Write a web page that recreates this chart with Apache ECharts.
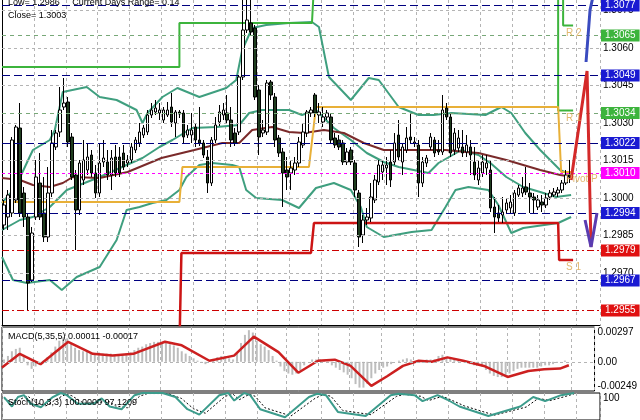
<!DOCTYPE html>
<html><head><meta charset="utf-8">
<script src="https://cdn.jsdelivr.net/npm/echarts@6/dist/echarts.min.js"></script>
<style>html,body{margin:0;padding:0;background:#fff}#c{width:640px;height:420px}</style>
</head><body><div id="c"></div>
<script>
// ---------- DATA ----------
const slotCount = 150;
const categories = Array.from({length: slotCount}, (_, i) => String(i));
// [open, close, low, high]
const candles = [
[1.29892,1.29972,1.29872,1.29992],[1.29924,1.30012,1.29872,1.30032],[1.29940,1.30232,1.29924,1.30244],[1.29992,1.30284,1.29980,1.30292],
[1.30280,1.29940,1.29924,1.30380],[1.30020,1.29924,1.29884,1.30044],[1.29924,1.29660,1.29552,1.29940],[1.29672,1.29860,1.29664,1.29884],
[1.29924,1.30084,1.29912,1.30152],[1.30060,1.29924,1.29912,1.30180],[1.29940,1.29844,1.29824,1.30084],[1.29844,1.30020,1.29824,1.30124],
[1.30020,1.30220,1.30004,1.30272],[1.30204,1.30260,1.30192,1.30272],[1.30264,1.30352,1.30244,1.30444],[1.30364,1.30380,1.30352,1.30480],
[1.30384,1.30224,1.30204,1.30404],[1.30244,1.30084,1.30072,1.30260],[1.30092,1.29952,1.29792,1.30112],[1.29952,1.30140,1.29932,1.30152],
[1.30072,1.30152,1.30052,1.30232],[1.30112,1.30164,1.30092,1.30220],[1.30172,1.30100,1.30084,1.30192],[1.30100,1.30020,1.30000,1.30132],
[1.30020,1.30140,1.30004,1.30220],[1.30144,1.30160,1.30124,1.30232],[1.30144,1.30092,1.30072,1.30192],[1.30092,1.30160,1.30032,1.30192],
[1.30164,1.30100,1.30084,1.30212],[1.30164,1.30100,1.30084,1.30204],[1.30180,1.30124,1.30112,1.30212],[1.30140,1.30152,1.30124,1.30172],
[1.30152,1.30204,1.30140,1.30220],[1.30192,1.30232,1.30180,1.30244],[1.30220,1.30264,1.30204,1.30300],[1.30252,1.30280,1.30240,1.30292],
[1.30264,1.30332,1.30252,1.30352],[1.30332,1.30352,1.30320,1.30380],[1.30344,1.30360,1.30332,1.30392],[1.30340,1.30352,1.30312,1.30380],
[1.30312,1.30352,1.30300,1.30364],[1.30332,1.30352,1.30324,1.30384],[1.30364,1.30304,1.30284,1.30420],[1.30300,1.30344,1.30244,1.30352],
[1.30344,1.30336,1.30320,1.30352],[1.30340,1.30244,1.30220,1.30352],[1.30252,1.30272,1.30240,1.30292],[1.30252,1.30272,1.30220,1.30340],
[1.30284,1.30232,1.30204,1.30300],[1.30232,1.30220,1.30208,1.30364],[1.30220,1.30172,1.30160,1.30232],[1.30164,1.30060,1.30020,1.30192],
[1.30060,1.30232,1.30048,1.30244],[1.30232,1.30292,1.30220,1.30324],[1.30304,1.30344,1.30288,1.30372],[1.30332,1.30352,1.30312,1.30380],
[1.30340,1.30312,1.30300,1.30412],[1.30312,1.30232,1.30204,1.30364],[1.30260,1.30220,1.30208,1.30280],[1.30264,1.30484,1.30252,1.30492],
[1.30484,1.30672,1.30472,1.30850],[1.30672,1.30712,1.30660,1.30860],[1.30700,1.30664,1.30652,1.30840],[1.30680,1.30404,1.30392,1.30692],
[1.30432,1.30244,1.30172,1.30452],[1.30260,1.30272,1.30244,1.30312],[1.30264,1.30460,1.30252,1.30472],[1.30464,1.30412,1.30392,1.30472],
[1.30404,1.30232,1.30204,1.30420],[1.30240,1.30180,1.30164,1.30252],[1.30184,1.30100,1.29964,1.30200],[1.30112,1.30084,1.30032,1.30164],
[1.30100,1.30120,1.30032,1.30152],[1.30112,1.30140,1.30092,1.30164],[1.30140,1.30224,1.30124,1.30244],[1.30212,1.30264,1.30200,1.30300],
[1.30260,1.30344,1.30244,1.30352],[1.30340,1.30352,1.30324,1.30364],[1.30412,1.30340,1.30324,1.30420],[1.30332,1.30344,1.30300,1.30380],
[1.30304,1.30324,1.30284,1.30364],[1.30324,1.30340,1.30312,1.30352],[1.30324,1.30232,1.30220,1.30340],[1.30240,1.30212,1.30200,1.30260],
[1.30232,1.30204,1.30192,1.30252],[1.30220,1.30144,1.30132,1.30232],[1.30144,1.30184,1.30132,1.30200],[1.30192,1.30144,1.30132,1.30204],
[1.30140,1.30032,1.30004,1.30152],[1.30020,1.29844,1.29804,1.30032],[1.29852,1.29912,1.29820,1.29932],[1.29912,1.29924,1.29892,1.29960],
[1.29920,1.30004,1.29904,1.30060],[1.29992,1.30072,1.29980,1.30092],[1.30064,1.30132,1.30052,1.30152],[1.30104,1.30132,1.30072,1.30152],
[1.30120,1.30132,1.30052,1.30164],[1.30144,1.30072,1.30044,1.30192],[1.30144,1.30220,1.30132,1.30260],[1.30252,1.30164,1.30152,1.30312],
[1.30144,1.30204,1.30092,1.30220],[1.30192,1.30240,1.30180,1.30284],[1.30244,1.30232,1.30220,1.30340],[1.30220,1.30224,1.30204,1.30244],
[1.30212,1.30060,1.30004,1.30232],[1.30060,1.30144,1.30044,1.30164],[1.30140,1.30160,1.30124,1.30172],[1.30204,1.30244,1.30192,1.30260],
[1.30232,1.30180,1.30164,1.30244],[1.30192,1.30184,1.30172,1.30232],[1.30184,1.30352,1.30172,1.30412],[1.30360,1.30324,1.30312,1.30380],
[1.30324,1.30180,1.30164,1.30340],[1.30192,1.30260,1.30172,1.30280],[1.30200,1.30240,1.30184,1.30272],[1.30204,1.30180,1.30164,1.30272],
[1.30184,1.30212,1.30164,1.30252],[1.30204,1.30172,1.30092,1.30232],[1.30144,1.30092,1.30072,1.30204],[1.30072,1.30120,1.30052,1.30152],
[1.30100,1.30144,1.30084,1.30172],[1.30120,1.30140,1.30092,1.30172],[1.30112,1.29960,1.29944,1.30152],[1.29964,1.29924,1.29860,1.30004],
[1.29940,1.29920,1.29904,1.29972],[1.29932,1.29944,1.29900,1.30004],[1.29952,1.29980,1.29940,1.30000],[1.29960,1.29984,1.29936,1.30012],
[1.29940,1.30020,1.29928,1.30032],[1.30012,1.30040,1.30004,1.30052],[1.30020,1.30040,1.30004,1.30084],[1.30044,1.30024,1.30012,1.30124],
[1.30020,1.30004,1.29940,1.30060],[1.30004,1.29992,1.29940,1.30020],[1.29964,1.29992,1.29952,1.30012],[1.29984,1.29972,1.29944,1.30012],
[1.29972,1.30000,1.29960,1.30020],[1.30004,1.30020,1.29992,1.30032],[1.30012,1.30024,1.30004,1.30040],[1.30020,1.30032,1.30004,1.30044],
[1.30032,1.30060,1.30020,1.30072],[1.30060,1.30092,1.30052,1.30112],[1.30092,1.30084,1.30060,1.30152]
];
// [slot position, price]
const upperBand = [[0,1.29980],[3.25,1.30040],[7.75,1.30192],[12,1.30232],[13.25,1.30272],[15.25,1.30424],[21.25,1.30444],[24.5,1.30404],[28.75,1.30392],[33.75,1.30352],[35.25,1.30300],[36.5,1.30340],[40.25,1.30404],[44,1.30440],[49.5,1.30404],[56.25,1.30440],[58.75,1.30472],[60.25,1.30592],[62.75,1.30680],[66.25,1.30692],[72,1.30700],[77.75,1.30704],[79.5,1.30684],[82,1.30484],[87.5,1.30392],[92,1.30480],[94.5,1.30472],[99.5,1.30364],[104.5,1.30332],[108.25,1.30332],[112.75,1.30340],[121.25,1.30332],[125.25,1.30364],[127.75,1.30340],[131.25,1.30260],[135,1.30192],[140,1.30112],[142.75,1.30092]];
const middleBand = [[0,1.29872],[4.5,1.29912],[7.75,1.29924],[12,1.29964],[16.25,1.30032],[24.5,1.30084],[31.25,1.30132],[35.25,1.30160],[39.5,1.30204],[42.75,1.30232],[47.75,1.30280],[53.75,1.30284],[59.5,1.30292],[62,1.30340],[65.25,1.30352],[72,1.30352],[75.25,1.30332],[78.75,1.30352],[83.25,1.30280],[87.5,1.30232],[91.5,1.30180],[95.75,1.30144],[99.5,1.30124],[107,1.30100],[109.5,1.30140],[115.25,1.30192],[119.5,1.30172],[122.5,1.30140],[126.5,1.30084],[130.75,1.30044],[135,1.30024],[139,1.30004],[142.75,1.30012]];
const lowerBand = [[0,1.29764],[2.75,1.29672],[6.25,1.29660],[12,1.29672],[15,1.29632],[18.75,1.29684],[24.5,1.29724],[28.75,1.29832],[31.25,1.29952],[34.5,1.29964],[37.75,1.29980],[41.25,1.29992],[44.5,1.30032],[46.25,1.30084],[49.5,1.30132],[52.75,1.30140],[57.75,1.30132],[59.5,1.30124],[61.25,1.30032],[63.75,1.30000],[70.25,1.29992],[74.5,1.29960],[78.75,1.30040],[83.25,1.30060],[87.5,1.30032],[90,1.29964],[91.5,1.29884],[95.75,1.29844],[102.75,1.29864],[107.75,1.29872],[111.25,1.29964],[113.75,1.30032],[117,1.30044],[122,1.30032],[124.5,1.29972],[127.75,1.29860],[130.75,1.29880],[139.5,1.29900],[142.75,1.29924]];
const slowMA = [[0,1.30080],[4.5,1.30072],[7.75,1.30052],[12,1.30044],[15.25,1.30060],[17.75,1.30084],[24.5,1.30080],[31.5,1.30104],[40,1.30160],[48.25,1.30192],[55.25,1.30220],[59.5,1.30220],[62.75,1.30272],[67.75,1.30284],[72,1.30264],[75.75,1.30260],[80.75,1.30272],[85.75,1.30260],[90.75,1.30220],[95.75,1.30192],[102.75,1.30192],[111.25,1.30192],[116.25,1.30184],[119.5,1.30180],[126.5,1.30152],[135,1.30112],[140,1.30092],[143.25,1.30084]];
const pivotR1 = [[0,1.30524],[44.5,1.30524],[44.5,1.30700],[77.75,1.30700],[78.25,1.30850],[139.5,1.30850],[139.5,1.30350],[143.25,1.30350]];
const pivotR2 = [[140.75,1.30850],[140.75,1.30690],[143.25,1.30690]];
const pivotPP = [[0,1.29984],[44.5,1.29984],[45.25,1.30124],[77,1.30124],[78.75,1.30364],[139.5,1.30364],[140.25,1.30104],[143.25,1.30104]];
const pivotS1 = [[44.5,1.29400],[45,1.29780],[77.5,1.29780],[78.25,1.29900],[139.5,1.29900],[139.75,1.29752],[143.25,1.29752]];
const pivotLabels = ['R 2', 'R 1', 'Pivot P', 'S 1'];
const pivotLabelPos = [[141.5,1.30690],[141.5,1.30350],[141.5,1.30104],[141.5,1.29752]];
const projRed = [[142.75,1.30072],[146.75,1.30508],[147.75,1.29804]];
const projBlueTop = [[146.5,1.30544],[147.5,1.30752],[148.5,1.30824]];
const projVee = [[146.25,1.29912],[147.75,1.29804],[149.25,1.29940]];
const gridPrices = [1.3075,1.3060,1.3045,1.3030,1.3015,1.3000,1.2985,1.2970];
const levelPrices = [1.3077,1.3065,1.3049,1.3034,1.3022,1.3010,1.2994,1.2979,1.2967,1.2955];
const levelKinds = ['navy','green','navy','green','navy','magenta','navy','red','navy','red'];
const macdHist = [0.0002,0.0005,0.0009,0.0011,0.0012,0.0006,-0.0003,-0.0006,-0.0004,-0.0002,
 0.0001,0.0004,0.0008,0.0013,0.0018,0.0021,0.0020,0.0016,0.0012,0.0010,
 0.0009,0.0009,0.0008,0.0007,0.0008,0.0007,0.0007,0.0007,0.0006,0.0006,
 0.0006,0.0007,0.0008,0.0010,0.0012,0.0013,0.0015,0.0016,0.0017,0.0017,
 0.0016,0.0016,0.0015,0.0014,0.0012,0.0009,0.0007,0.0005,0.0003,0.0001,
 -0.0001,-0.0002,0.0000,0.0002,0.0004,0.0005,0.0005,0.0003,0.0002,0.0008,
 0.0016,0.0023,0.0027,0.0025,0.0018,0.0015,0.0013,0.0010,0.0005,0.0001,
 -0.0004,-0.0008,-0.0010,-0.0011,-0.0010,-0.0007,-0.0003,0.0000,0.0002,0.0002,
 0.0002,0.0001,-0.0001,-0.0003,-0.0005,-0.0007,-0.0009,-0.0011,-0.0014,-0.0019,
 -0.0022,-0.0022,-0.0019,-0.0014,-0.0010,-0.0007,-0.0005,-0.0004,-0.0002,0.0000,
 0.0001,0.0002,0.0003,0.0002,0.0000,-0.0001,0.0000,0.0002,0.0002,0.0002,
 0.0005,0.0006,0.0004,0.0003,0.0002,0.0001,0.0001,0.0000,-0.0002,-0.0003,
 -0.0003,-0.0004,-0.0007,-0.0010,-0.0012,-0.0013,-0.0013,-0.0012,-0.0010,-0.0008,
 -0.0006,-0.0005,-0.0005,-0.0005,-0.0005,-0.0005,-0.0004,-0.0003,-0.0003,-0.0002,
 -0.0001,0.0000,0.0001];
const macdSignal = [[0,-0.00049],[4.5,0.00068],[9.75,-0.0002],[16.75,0.00171],[23,0.00068],[28,0.00053],[33.25,0.00068],[41.25,0.00171],[45.5,0.00141],[52.5,0.00009],[58.75,0.00053],[63.75,0.00215],[70,0.00083],[75,-0.00093],[80,0.00009],[84.25,0.00018],[88.25,-0.00035],[93.5,-0.00205],[97.5,-0.00123],[101.5,-0.00035],[105.5,0.00009],[108.75,0.0],[112.75,0.00038],[116.75,0.00009],[122,-0.00035],[128,-0.00129],[133.25,-0.00079],[137.25,-0.00064],[141.25,-0.00058],[143.5,-0.00029]];
const macdTicks = [-0.00249, 0, 0.00297];
const stochMain = [[0.5,85],[2.5,50],[4,85],[5.5,92],[7.25,60],[9.75,47],[12.75,85],[14.75,100],[16.25,92],[19,60],[23,60],[25,80],[27,50],[30,40],[33.25,92],[35.25,100],[40.25,100],[43.5,85],[46.5,40],[49.5,20],[54.5,92],[56.75,100],[58.25,72],[60.75,100],[62.25,92],[64.75,40],[71,10],[77,85],[79,97],[81.25,92],[84.25,30],[91.25,15],[97.5,92],[99.5,97],[103.5,92],[105.5,70],[109.25,92],[111.75,75],[114.75,50],[122,15],[130,50],[133.25,85],[136.25,70],[140.25,92],[143.5,100]];
const stochSignal = [[0.5,80],[3,60],[5,80],[6.5,88],[8.5,65],[11,52],[14,80],[16,95],[17.5,90],[20.5,62],[24.5,65],[26.5,72],[28.5,52],[31.5,45],[34.5,88],[36.5,98],[41.5,98],[45,80],[48,42],[51,25],[56,88],[58,95],[59.5,75],[62,95],[63.5,88],[66,45],[72.5,15],[78.5,80],[80.5,94],[82.5,88],[85.5,35],[92.5,20],[99,88],[101,95],[105,88],[107,72],[110.5,88],[113,72],[116,52],[123.5,18],[131.5,48],[134.5,80],[137.5,72],[141.5,88],[143.5,97]];
const stochTicks = [80, 100];
const headerLine1 = 'Low= 1.2986     Current Days Range= 0.14';
const headerLine2 = 'Close= 1.3003';
const macdTitle = 'MACD(5,35,5) 0.00011 -0.00017';
const stochTitle = 'Stoch(10,3,3) 100.0000 97.1209';

// ---------- STYLE ----------
const FONT = "'Liberation Sans', Arial, sans-serif";
const priceMin = 1.29492, priceMax = 1.30792;
const gridDash = {color: '#b4b4b4', type: [3, 3], width: 1};
const levelStyle = {
  navy:   {line: '#000080', type: [8, 4], box: '#1a1ad2'},
  green:  {line: '#78a878', type: [4, 4], box: '#3cb43c'},
  magenta:{line: '#ff00ff', type: [3, 3], box: '#ff00ff'},
  red:    {line: '#cc0000', type: [7, 3, 2, 3], box: '#e01010'}
};
const chart = echarts.init(document.getElementById('c'), null, {renderer: 'canvas'});

const gridMarks = gridPrices.map(p => ({
  yAxis: p, lineStyle: {color: '#b4b4b4', type: [3, 3], width: 1},
  label: {show: true, position: 'end', distance: 3, formatter: p.toFixed(4), color: '#000',
          fontSize: 10, fontFamily: FONT}
}));
const levelMarks = levelPrices.map((p, i) => {
  const s = levelStyle[levelKinds[i]];
  return {
    yAxis: p, lineStyle: {color: s.line, type: s.type, width: 1},
    label: {show: true, position: 'end', distance: 1, formatter: p.toFixed(4), color: '#fff',
            backgroundColor: s.box, padding: [1, 4, 0, 4], lineHeight: 11, fontSize: 10, fontFamily: FONT}
  };
});

function lineSeries(data, color, width, z, xi, yi, extra) {
  return Object.assign({type: 'line', data, xAxisIndex: xi, yAxisIndex: yi, symbol: 'none',
    lineStyle: {color, width}, z, silent: true, clip: true}, extra || {});
}
const titleStyle = {fontSize: 9, fontWeight: 'normal', color: '#000', fontFamily: FONT};

chart.setOption({
  animation: false,
  backgroundColor: '#fff',
  title: [
    {text: headerLine1, left: 8, top: -2, padding: 0, textStyle: titleStyle},
    {text: headerLine2, left: 8, top: 11, padding: 0, textStyle: titleStyle},
    {text: macdTitle, left: 8, top: 332, padding: 0, textStyle: titleStyle},
    {text: stochTitle, left: 8, top: 398, padding: 0, textStyle: titleStyle}
  ],
  grid: [
    {left: 2, top: 0, width: 598, height: 325},
    {left: 2, top: 327, width: 598, height: 64, show: true, borderColor: '#000', borderWidth: 1},
    {left: 2, top: 393, width: 598, height: 40, show: true, borderColor: '#000', borderWidth: 1}
  ],
  xAxis: [
    {type: 'category', gridIndex: 0, data: categories, boundaryGap: true,
     axisLine: {show: true, lineStyle: {color: '#000'}}, axisTick: {show: false}, axisLabel: {show: false}},
    {type: 'value', gridIndex: 0, min: 0, max: slotCount, interval: 8,
     axisLine: {show: false}, axisTick: {show: false}, axisLabel: {show: false}, splitLine: {show: true, lineStyle: gridDash}},
    {type: 'category', gridIndex: 1, data: categories, boundaryGap: true, show: false},
    {type: 'value', gridIndex: 1, min: 0, max: slotCount, interval: 8,
     axisLine: {show: false}, axisTick: {show: false}, axisLabel: {show: false}, splitLine: {show: true, lineStyle: gridDash}},
    {type: 'value', gridIndex: 2, min: 0, max: slotCount, interval: 8,
     axisLine: {show: false}, axisTick: {show: false}, axisLabel: {show: false}, splitLine: {show: true, lineStyle: gridDash}}
  ],
  yAxis: [
    {type: 'value', gridIndex: 0, position: 'right', min: priceMin, max: priceMax, scale: true,
     axisLine: {show: true, lineStyle: {color: '#000'}}, axisTick: {show: false}, axisLabel: {show: false}, splitLine: {show: false}},
    {type: 'value', gridIndex: 0, position: 'left', min: priceMin, max: priceMax, scale: true,
     axisLine: {show: true, lineStyle: {color: '#000'}}, axisTick: {show: false}, axisLabel: {show: false}, splitLine: {show: false}},
    {type: 'value', gridIndex: 1, position: 'right', min: macdTicks[0], max: macdTicks[2],
     axisLine: {show: false}, axisTick: {show: false}, splitLine: {show: false},
     axisLabel: {show: true, customValues: macdTicks, margin: 3, color: '#000', fontSize: 10, fontFamily: FONT,
       verticalAlignMaxLabel: 'top', verticalAlignMinLabel: 'bottom',
       formatter: v => (v === 0 ? '0.00' : v.toFixed(5))}},
    {type: 'value', gridIndex: 2, position: 'right', min: 0, max: 100,
     axisLine: {show: false}, axisTick: {show: false}, splitLine: {show: false},
     axisLabel: {show: true, customValues: stochTicks, margin: 3, color: '#000', fontSize: 10, fontFamily: FONT,
       verticalAlignMaxLabel: 'top'}}
  ],
  series: [
    lineSeries(upperBand, '#3f9f7f', 2, 3, 1, 0, {markLine: {silent: true, precision: 6, symbol: ['none', 'none'], animation: false, data: gridMarks}}),
    lineSeries(middleBand, '#3f9f7f', 2, 3, 1, 0, {markLine: {silent: true, precision: 6, symbol: ['none', 'none'], animation: false, data: levelMarks}}),
    lineSeries(lowerBand, '#3f9f7f', 2, 3, 1, 0),
    lineSeries(slowMA, '#7a2a2a', 2, 3, 1, 0),
    lineSeries(pivotR1, '#3cb43c', 2, 3, 1, 0),
    lineSeries(pivotR2, '#3cb43c', 2, 3, 1, 0),
    lineSeries(pivotPP, '#e8b038', 2, 3, 1, 0),
    lineSeries(pivotS1, '#cc1414', 2.5, 3, 1, 0),
    {type: 'candlestick', xAxisIndex: 0, yAxisIndex: 0, data: candles, barWidth: 3, z: 4, clip: true, silent: true,
     itemStyle: {color: '#ffffff', color0: '#1f3d1f', borderColor: '#000', borderColor0: '#000', borderWidth: 1}},
    {type: 'scatter', xAxisIndex: 1, yAxisIndex: 0, data: pivotLabelPos, symbol: 'circle', symbolSize: 1,
     itemStyle: {color: 'rgba(0,0,0,0)'}, z: 6, silent: true, clip: false,
     label: {show: true, position: 'bottom', distance: 2, align: 'left', color: '#d9a64a', fontSize: 10, fontFamily: FONT,
             formatter: p => pivotLabels[p.dataIndex]}},
    lineSeries(projRed, '#d42a2a', 3, 5, 1, 0),
    lineSeries(projBlueTop, '#3a4bbf', 3, 5, 1, 0),
    lineSeries(projVee, '#5a3cb0', 3, 5, 1, 0),
    {type: 'bar', xAxisIndex: 2, yAxisIndex: 2, data: macdHist, barWidth: 2, z: 2, silent: true,
     itemStyle: {color: '#bdbdbd'},
     markLine: {silent: true, precision: 6, symbol: ['none', 'none'], label: {show: false}, animation: false,
                data: [{yAxis: 0, lineStyle: {color: '#b4b4b4', type: [3, 3], width: 1}}]}},
    lineSeries(macdSignal, '#cc2020', 2.5, 3, 3, 2),
    lineSeries(stochSignal, '#000', 1, 3, 4, 3, {lineStyle: {color: '#000', width: 1, type: [2, 2]}}),
    lineSeries(stochMain, '#3c9c8c', 2, 4, 4, 3)
  ]
});
</script>
</body></html>
